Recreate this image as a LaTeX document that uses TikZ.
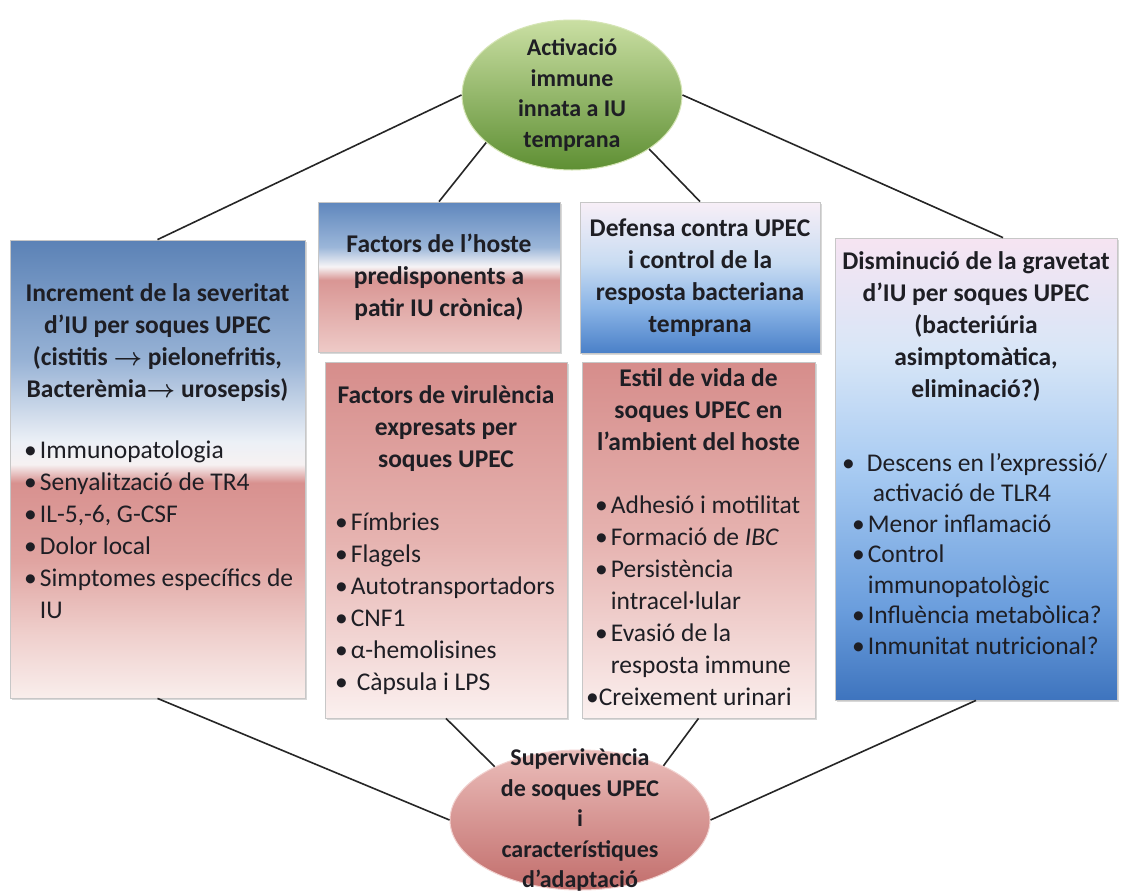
\documentclass[tikz,border=0pt]{standalone}
\usepackage{fontspec}
\setmainfont{Carlito}
\usepackage{tikz}
\usetikzlibrary{shapes,shadows}

\definecolor{textfosc}{HTML}{1E1E24}
\definecolor{linia}{HTML}{262626}
% left box
\definecolor{sevA}{HTML}{F9EEEC}
\definecolor{sevB}{HTML}{EFCFCC}
\definecolor{sevC}{HTML}{E0A4A1}
\definecolor{sevD}{HTML}{D8918F}
\definecolor{sevE}{HTML}{F6F1F2}
\definecolor{sevF}{HTML}{ECF0F6}
\definecolor{sevG}{HTML}{97B2D5}
\definecolor{sevH}{HTML}{5B82B6}
% host box
\definecolor{hosA}{HTML}{EECAC7}
\definecolor{hosB}{HTML}{D99694}
\definecolor{hosC}{HTML}{F6F4F6}
\definecolor{hosD}{HTML}{9BB6D9}
\definecolor{hosE}{HTML}{5F87BD}
% defence box
\definecolor{defA}{HTML}{4A80C8}
\definecolor{defB}{HTML}{8AB4E6}
\definecolor{defC}{HTML}{C9DCF2}
\definecolor{defD}{HTML}{F8EFF7}
% pink boxes
\definecolor{virA}{HTML}{FBF0EF}
\definecolor{virB}{HTML}{E6B3B0}
\definecolor{virC}{HTML}{D68D8B}
% right box
\definecolor{graA}{HTML}{3E74BE}
\definecolor{graB}{HTML}{6B9EDD}
\definecolor{graC}{HTML}{A8CBF2}
\definecolor{graD}{HTML}{D8E6F7}
\definecolor{graE}{HTML}{F6E4F2}
% ovals
\definecolor{verdA}{HTML}{CADFA3}
\definecolor{verdB}{HTML}{5E8F33}
\definecolor{rosA}{HTML}{EBBDBA}
\definecolor{rosB}{HTML}{C26E6C}

\pgfdeclareverticalshading{sevshade}{100bp}{color(0bp)=(sevA); color(25bp)=(sevA); color(32bp)=(sevB); color(40bp)=(sevC); color(48.5bp)=(sevD); color(50.5bp)=(sevE); color(53bp)=(sevF); color(62bp)=(sevG); color(75bp)=(sevH); color(100bp)=(sevH)}
\pgfdeclareverticalshading{hosshade}{100bp}{color(0bp)=(hosA); color(25bp)=(hosA); color(49bp)=(hosB); color(53.5bp)=(hosC); color(60bp)=(hosD); color(75bp)=(hosE); color(100bp)=(hosE)}
\pgfdeclareverticalshading{defshade}{100bp}{color(0bp)=(defA); color(25bp)=(defA); color(40bp)=(defB); color(55bp)=(defC); color(75bp)=(defD); color(100bp)=(defD)}
\pgfdeclareverticalshading{virshade}{100bp}{color(0bp)=(virA); color(25bp)=(virA); color(50bp)=(virB); color(75bp)=(virC); color(100bp)=(virC)}
\pgfdeclareverticalshading{grashade}{100bp}{color(0bp)=(graA); color(25bp)=(graA); color(35bp)=(graB); color(50bp)=(graC); color(62.5bp)=(graD); color(75bp)=(graE); color(100bp)=(graE)}

\tikzstyle{edge}=[
	-,
	draw=linia,
	line width=1.6pt
]
\tikzstyle{box}=[
	rectangle,
	draw=black!22,
	line width=0.8pt,
	shade,
	inner sep=0pt,
	drop shadow={shadow xshift=1.5pt, shadow yshift=-1.5pt, opacity=0.3}
]
\tikzstyle{oval}=[
	ellipse,
	line width=1pt,
	inner sep=0pt,
	shading angle=25
]
\tikzstyle{titol}=[
	font=\fontsize{25.5}{32}\selectfont\bfseries,
	text=textfosc,
	align=center,
	inner sep=0pt,
	anchor=north
]
\tikzstyle{llista}=[
	font=\fontsize{25.5}{32}\selectfont,
	text=textfosc,
	align=left,
	inner sep=0pt,
	anchor=north west
]
\tikzstyle{ovaltext}=[
	font=\fontsize{24}{30.5}\selectfont\bfseries,
	text=textfosc,
	align=center,
	inner sep=0pt
]

\newcommand{\punt}{\textbullet\hspace{3pt}}
\newcommand{\segueix}{\phantom{\textbullet}\hspace{3pt}}

\begin{document}
\begin{tikzpicture}[x=1pt, y=-1pt]
\fill[white] (0,0) rectangle (1124,892);
\useasboundingbox (0,0) rectangle (1124,892);

% ovals
\node[oval, draw=verdA!80!white, top color=verdA, bottom color=verdB, minimum width=220pt, minimum height=150pt] (act) at (572,95) {};
\node[ovaltext] (acttxt) at (act) {Activació\\immune\\innata a IU\\temprana};
\node[oval, draw=rosA!70!white, top color=rosA, bottom color=rosB, minimum width=260pt, minimum height=140pt] (sup) at (580,820) {};
\node[ovaltext] (suptxt) at (sup) {Supervivència\\de soques UPEC\\i\\característiques\\d’adaptació};

% boxes
\node[box, shading=sevshade, minimum width=295pt, minimum height=458pt] (sev) at (157.5,469) {};
\node[box, shading=hosshade, minimum width=242pt, minimum height=150pt, titol, anchor=center] (hos) at (439,277) {Factors de l’hoste\\predisponents a\\patir IU crònica)};
\node[box, shading=defshade, minimum width=240pt, minimum height=151pt, titol, anchor=center] (def) at (700,277.5) {Defensa contra UPEC\\i control de la\\resposta bacteriana\\temprana};
\node[box, shading=virshade, minimum width=242pt, minimum height=356pt] (vir) at (446,540) {};
\node[box, shading=virshade, minimum width=233pt, minimum height=356pt] (est) at (698.5,540) {};
\node[box, shading=grashade, minimum width=282pt, minimum height=462pt] (gra) at (976,469) {};

% texts
\node[titol] (sevtit) at (157.5,283) {Increment de la severitat\\d’IU per soques UPEC\\(cistitis {\boldmath$\rightarrow$} pielonefritis,\\Bacterèmia{\boldmath$\rightarrow$} urosepsis)};
\node[llista] (sevllista) at (24,441) {\punt Immunopatologia\\\punt Senyalització de TR4\\\punt IL-5,-6, G-CSF\\\punt Dolor local\\\punt Simptomes específics de\\\segueix IU};

\node[titol] (virtit) at (446,385) {Factors de virulència\\expresats per\\soques UPEC};
\node[llista] (virllista) at (335,513) {\punt Fímbries\\\punt Flagels\\\punt Autotransportadors\\\punt CNF1\\\punt α-hemolisines\\\textbullet\hspace{9pt}Càpsula i LPS};

\node[titol] (esttit) at (698.5,368) {Estil de vida de\\soques UPEC en\\l’ambient del hoste};
\node[llista] (estllista) at (595,496) {\punt Adhesió i motilitat\\\punt Formació de \textit{IBC}\\\punt Persistència\\\segueix intracel·lular\\\punt Evasió de la\\\segueix resposta immune\\\hspace*{-9pt}\textbullet Creixement urinari};

\node[titol] (gratit) at (976,251) {Disminució de la gravetat\\d’IU per soques UPEC\\(bacteriúria\\asimptomàtica,\\eliminació?)};
\node[llista, font=\fontsize{25.5}{30.5}\selectfont] (grallista) at (852,453) {\hspace*{-10pt}\textbullet\hspace{12pt}Descens en l’expressió/\\\segueix\hspace{5pt}activació de TLR4\\\punt Menor inflamació\\\punt Control\\\segueix immunopatològic\\\punt Influència metabòlica?\\\punt Inmunitat nutricional?};

% connectors
\draw[edge] (act.west) to (sev.north);
\draw[edge] (act.east) to ([xshift=27pt]gra.north);
\draw[edge] (act.209) to (hos.north);
\draw[edge] (act.-35) to (def.north);
\draw[edge] (vir.south) to (sup.148);
\draw[edge] (est.south) to (sup.33);
\draw[edge] (sev.south) to (sup.west);
\draw[edge] (gra.south) to (sup.east);
\end{tikzpicture}
\end{document}
